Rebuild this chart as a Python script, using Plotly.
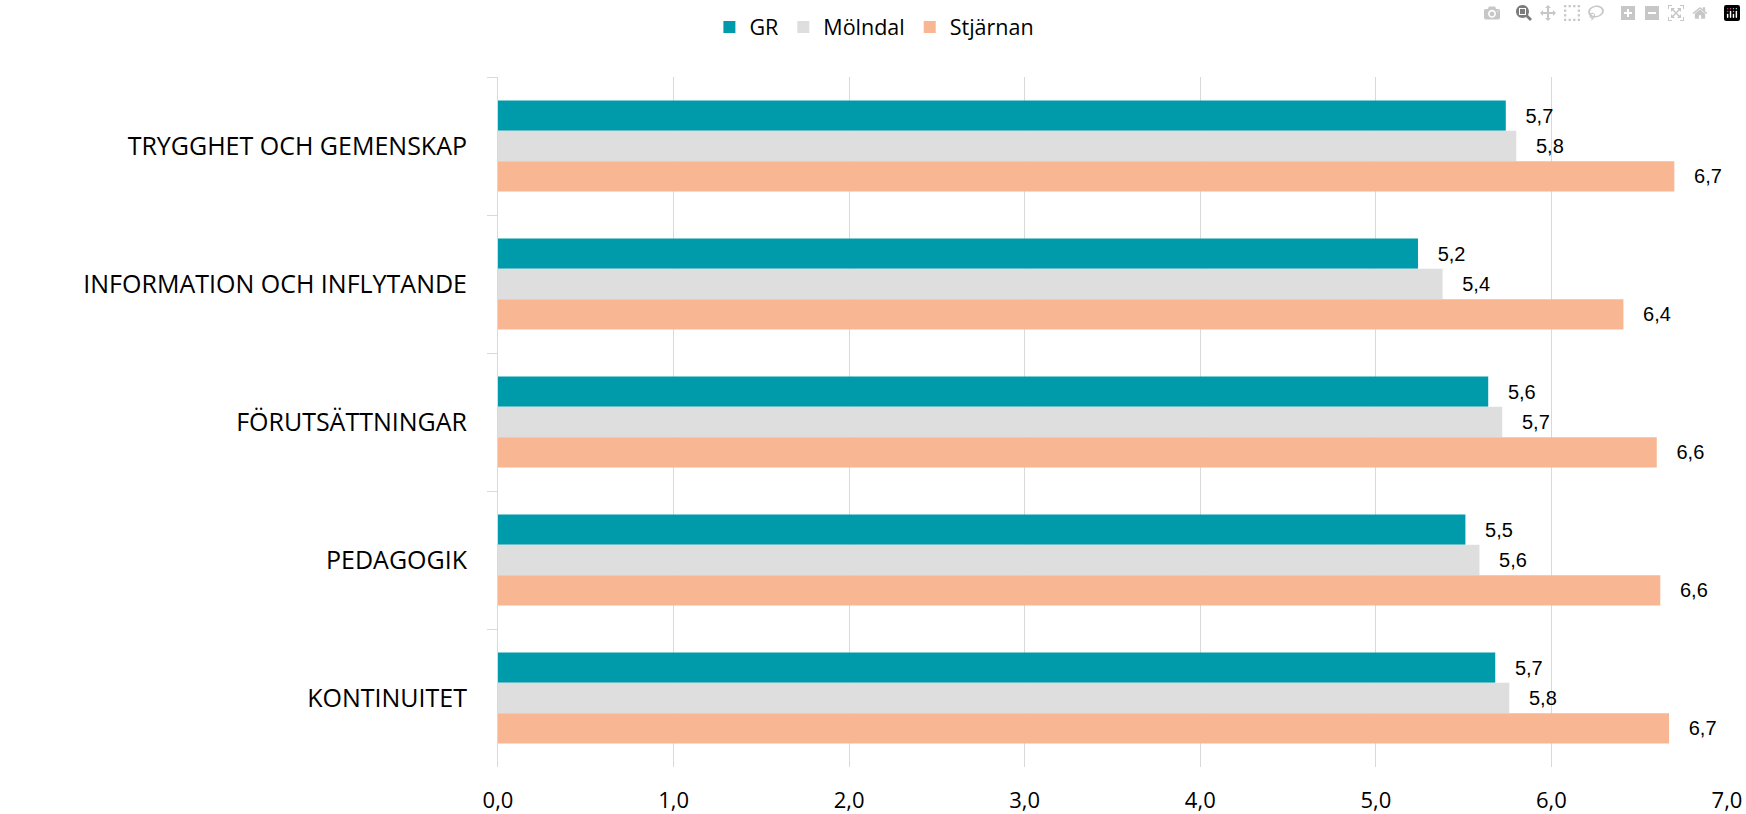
import plotly.graph_objects as go

categories = ["TRYGGHET OCH GEMENSKAP", "INFORMATION OCH INFLYTANDE", "FÖRUTSÄTTNINGAR", "PEDAGOGIK", "KONTINUITET"]
gr = [5.74, 5.24, 5.64, 5.51, 5.68]
molndal = [5.80, 5.38, 5.72, 5.59, 5.76]
stjarnan = [6.70, 6.41, 6.60, 6.62, 6.67]
x_ticks = [0, 1, 2, 3, 4, 5, 6, 7]

series = [("GR", gr, "#009BAA"), ("Mölndal", molndal, "#DEDEDE"), ("Stjärnan", stjarnan, "#F8B693")]

fig = go.Figure()
for name, vals, color in series:
    fig.add_trace(go.Bar(
        name=name, x=vals, y=categories, orientation="h",
        marker=dict(color=color, line=dict(width=0)),
        texttemplate="\u00a0\u00a0\u00a0%{x:.1f}", textposition="outside",
        textfont=dict(family="Liberation Sans, Arial", size=20, color="#000000"),
        cliponaxis=False,
    ))

fig.update_layout(
    width=1746, height=814,
    separators=", ",
    barmode="group", bargap=0.34, bargroupgap=0,
    plot_bgcolor="white", paper_bgcolor="white",
    margin=dict(l=498, r=19, t=77, b=47, autoexpand=False),
    font=dict(family="Open Sans", color="#000000"),
    legend=dict(orientation="h", x=0.172, xanchor="left", y=0.992, yanchor="top",
                yref="container", itemwidth=30,
                font=dict(size=21.5, family="Open Sans")),
    xaxis=dict(range=[0, 7], tickvals=x_ticks, tickformat=".1f", showgrid=True,
               gridcolor="#D9D9D9", gridwidth=1, zeroline=False, showline=False,
               ticks="", tickfont=dict(size=22, family="Open Sans"), ticklabelstandoff=18,
               automargin=False),
    yaxis=dict(autorange="reversed", showgrid=False, showline=True, linecolor="#D9D9D9",
               ticks="outside", tickson="boundaries", ticklen=10, tickcolor="#D9D9D9",
               tickfont=dict(size=25, family="Open Sans"), ticklabelstandoff=25,
               automargin=False),
)

fig.write_html("out.html", post_script="document.body.style.margin='0';")
